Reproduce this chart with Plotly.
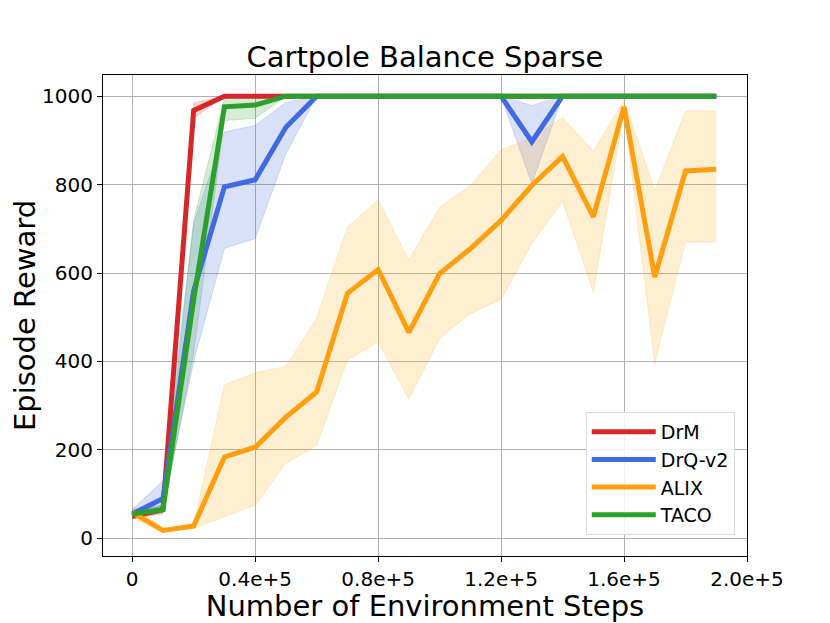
import plotly.graph_objects as go

steps = [i * 10000 for i in range(20)]

drm_mean = [50, 65, 968, 1000, 1000, 1000, 1000, 1000, 1000, 1000, 1000, 1000, 1000, 1000, 1000, 1000, 1000, 1000, 1000, 1000]
drm_low = [45, 58, 950, 1000, 1000, 1000, 1000, 1000, 1000, 1000, 1000, 1000, 1000, 1000, 1000, 1000, 1000, 1000, 1000, 1000]
drm_high = [58, 75, 985, 1000, 1000, 1000, 1000, 1000, 1000, 1000, 1000, 1000, 1000, 1000, 1000, 1000, 1000, 1000, 1000, 1000]

drq_mean = [55, 90, 560, 795, 811, 930, 1000, 1000, 1000, 1000, 1000, 1000, 1000, 897, 1000, 1000, 1000, 1000, 1000, 1000]
drq_low = [45, 70, 400, 656, 678, 870, 1000, 1000, 1000, 1000, 1000, 1000, 1000, 802, 1000, 1000, 1000, 1000, 1000, 1000]
drq_high = [65, 130, 712, 919, 934, 986, 1000, 1000, 1000, 1000, 1000, 1000, 1000, 979, 1000, 1000, 1000, 1000, 1000, 1000]

alix_mean = [59, 18, 28, 184, 206, 274, 331, 554, 608, 466, 599, 655, 719, 798, 864, 727, 976, 591, 831, 835]
alix_low = [45, 15, 22, 48, 75, 170, 210, 403, 444, 314, 452, 508, 540, 667, 762, 557, 965, 395, 670, 670]
alix_high = [75, 22, 32, 348, 374, 389, 498, 704, 766, 630, 749, 798, 879, 905, 952, 876, 991, 787, 967, 967]

taco_mean = [55, 65, 540, 976, 980, 1000, 1000, 1000, 1000, 1000, 1000, 1000, 1000, 1000, 1000, 1000, 1000, 1000, 1000, 1000]
taco_low = [45, 55, 420, 945, 950, 1000, 1000, 1000, 1000, 1000, 1000, 1000, 1000, 1000, 1000, 1000, 1000, 1000, 1000, 1000]
taco_high = [65, 75, 720, 995, 1000, 1000, 1000, 1000, 1000, 1000, 1000, 1000, 1000, 1000, 1000, 1000, 1000, 1000, 1000, 1000]

x_tick_vals = [0, 40000, 80000, 120000, 160000, 200000]
x_tick_text = ["0", "0.4e+5", "0.8e+5", "1.2e+5", "1.6e+5", "2.0e+5"]
y_tick_vals = [0, 200, 400, 600, 800, 1000]

series = [
    ("DrM", drm_mean, drm_low, drm_high, "#d62728", "rgba(214,39,40,0.2)"),
    ("DrQ-v2", drq_mean, drq_low, drq_high, "#4169e1", "rgba(65,105,225,0.2)"),
    ("ALIX", alix_mean, alix_low, alix_high, "#ff9f0f", "rgba(255,165,0,0.18)"),
    ("TACO", taco_mean, taco_low, taco_high, "#2ca02c", "rgba(44,160,44,0.2)"),
]

fig = go.Figure()
for name, mean, low, high, color, fill in series:
    fig.add_trace(go.Scatter(x=steps, y=low, mode="lines", line=dict(width=1, color=fill),
                             showlegend=False, hoverinfo="skip"))
    fig.add_trace(go.Scatter(x=steps, y=high, mode="lines", line=dict(width=1, color=fill),
                             fill="tonexty", fillcolor=fill, showlegend=False, hoverinfo="skip"))
for name, mean, low, high, color, fill in series:
    fig.add_trace(go.Scatter(x=steps, y=mean, mode="lines", name=name, legendgroup=name,
                             line=dict(width=5, color=color)))

# the page body has an 8px margin, so the figure is 8px smaller and offset
W, H = 822, 615
font = "DejaVu Sans, Arial, sans-serif"
fig.update_layout(
    width=W, height=H,
    paper_bgcolor="white", plot_bgcolor="white",
    margin=dict(l=95, r=83, t=67, b=67, autoexpand=False),
    font=dict(family=font, color="black"),
    title=dict(text="Cartpole Balance Sparse", x=0.5, xref="paper", xanchor="center",
               y=1 - 49 / H, yanchor="middle", font=dict(size=29, family=font)),
    legend=dict(x=0.981, y=0.044, xanchor="right", yanchor="bottom", traceorder="normal",
                bgcolor="rgba(255,255,255,0.85)", bordercolor="#dddddd", borderwidth=1,
                font=dict(size=19, family=font), tracegroupgap=8, itemwidth=64),
    showlegend=True,
)
fig.update_xaxes(range=[-9500, 200000], tickvals=x_tick_vals, ticktext=x_tick_text,
                 automargin=False,
                 showgrid=True, gridcolor="#b0b0b0", gridwidth=1,
                 showline=True, linecolor="black", linewidth=1.2, mirror=True,
                 ticks="outside", ticklen=5, tickcolor="black", zeroline=False,
                 tickfont=dict(size=20, family=font),
                 title=dict(text="Number of Environment Steps", font=dict(size=29, family=font), standoff=4))
fig.update_yaxes(range=[-40, 1048], tickvals=y_tick_vals,
                 automargin=False,
                 showgrid=True, gridcolor="#b0b0b0", gridwidth=1,
                 showline=True, linecolor="black", linewidth=1.2, mirror=True,
                 ticks="outside", ticklen=5, tickcolor="black", zeroline=False,
                 tickfont=dict(size=20, family=font),
                 title=dict(text="Episode Reward", font=dict(size=29, family=font), standoff=2))

fig.write_html("out.html")
